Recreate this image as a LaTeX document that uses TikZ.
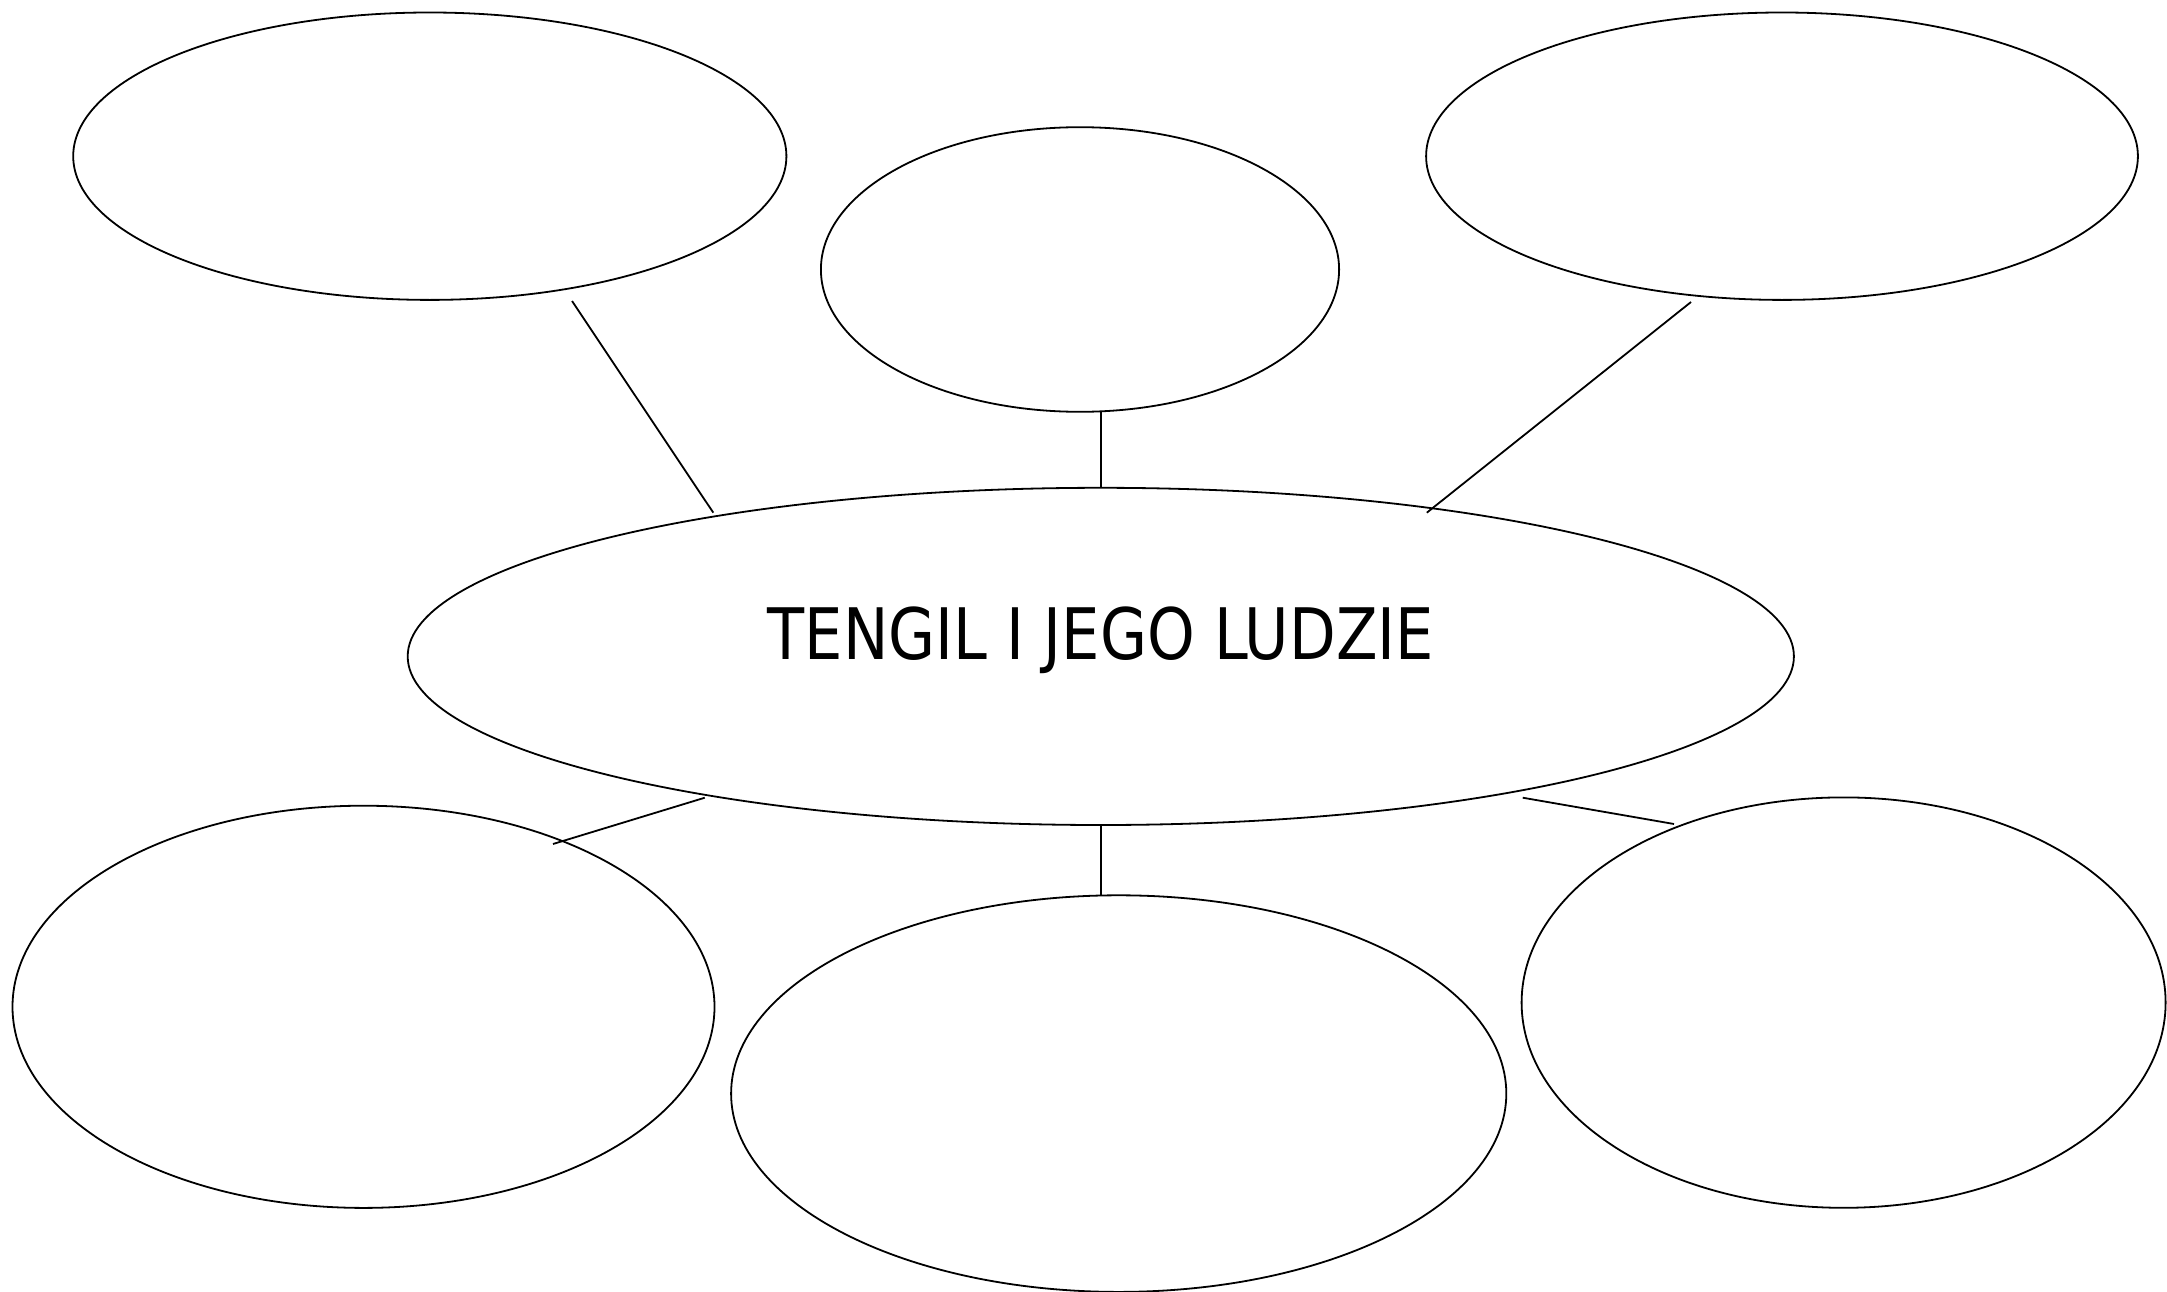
\documentclass[tikz,border=0pt]{standalone}
\usepackage{fontspec}
\newfontfamily\lblfont[FakeStretch=0.855]{DejaVu Sans}
\usetikzlibrary{shapes.geometric,calc}
\begin{document}
\begin{tikzpicture}[x=1pt,y=-1pt,
  bubble/.style={draw=black,line width=1.8pt,ellipse,inner sep=0pt,outer sep=0pt},
  link/.style={draw=black,line width=1.8pt}]
\useasboundingbox (0,0) rectangle (2167,1292);
\node[bubble,minimum width=713.2pt,minimum height=287.4pt] (tl) at (429.8,156.2) {};
\node[bubble,minimum width=518.2pt,minimum height=284.6pt] (tm) at (1080,269.5) {};
\node[bubble,minimum width=711.8pt,minimum height=287.4pt] (tr) at (1782,156.2) {};
\node[bubble,minimum width=1386.2pt,minimum height=337.2pt] (c) at (1100.8,656.4) {};
\node[bubble,minimum width=702pt,minimum height=402.2pt] (bl) at (363.5,1006.8) {};
\node[bubble,minimum width=775.2pt,minimum height=396.6pt] (bm) at (1118.7,1093.6) {};
\node[bubble,minimum width=644pt,minimum height=410.4pt] (br) at (1843.6,1002.6) {};
\node[anchor=base,inner sep=0pt] (title) at (1100.8,659.2) {\lblfont\fontsize{71}{85}\selectfont TENGIL I JEGO LUDZIE};
\draw[link] ($(tl.center)+(142.2,144.8)$) -- ($(c.center)+(-387.5,-143.7)$);
\draw[link] (c.north) -- (c.north |- tm.south);
\draw[link] ($(tr.center)+(-91,145.8)$) -- ($(c.center)+(326,-143.7)$);
\draw[link] ($(c.center)+(-396,141.3)$) -- ($(bl.center)+(189.5,-162.8)$);
\draw[link] (c.south) -- (c.south |- bm.north);
\draw[link] ($(c.center)+(421.9,141.3)$) -- ($(br.center)+(-169.6,-178.6)$);
\end{tikzpicture}
\end{document}
